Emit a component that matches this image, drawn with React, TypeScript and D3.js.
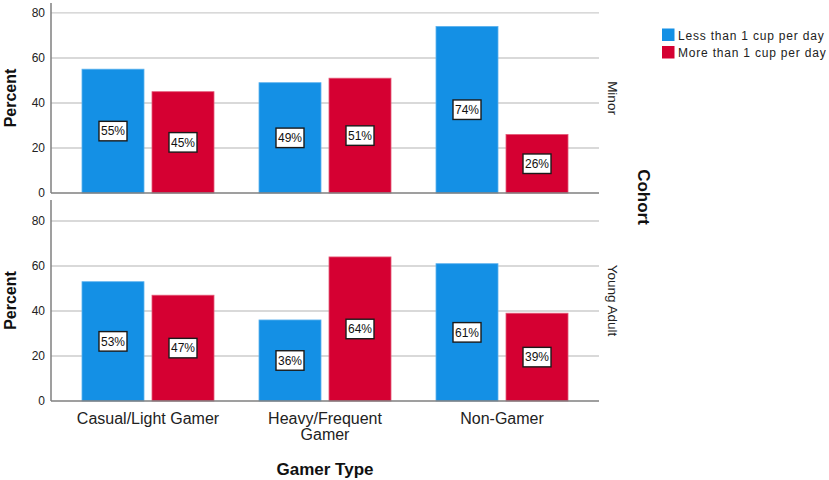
import * as d3 from 'd3'

const categories = ['Casual/Light Gamer', 'Heavy/Frequent Gamer', 'Non-Gamer']
const cohorts = ['Minor', 'Young Adult']
const seriesNames = ['Less than 1 cup per day', 'More than 1 cup per day']
const seriesColors = ['#1490e5', '#d50032']
const seriesEdges = ['#5cb2ee', '#e45a78']

const minorLess = [55, 49, 74]
const minorMore = [45, 51, 26]
const youngLess = [53, 36, 61]
const youngMore = [47, 64, 39]

const yTicks = [0, 20, 40, 60, 80]

const FONT = '"Liberation Sans", Arial, sans-serif'

const width = 829
const height = 480
const plot = { left: 51, right: 599 }

const panels = [
  { cohort: cohorts[0], series: [minorLess, minorMore], top: 3, bottom: 193, max: 84.4 },
  { cohort: cohorts[1], series: [youngLess, youngMore], top: 200, bottom: 401, max: 89.3 },
]

function wrapLabel(label: string) {
  if (label.length <= 18) return [label]
  const i = label.lastIndexOf(' ')
  return [label.slice(0, i), label.slice(i + 1)]
}

export default function App() {
  const x0 = d3
    .scaleBand<string>()
    .domain(categories)
    .range([plot.left, plot.right])
    .paddingInner(0)
    .paddingOuter(0.048)

  const x1 = d3
    .scaleBand<number>()
    .domain([0, 1])
    .range([0, x0.bandwidth()])
    .paddingInner(0.1143)
    .paddingOuter(0.3214)

  return (
    <svg
      width={width}
      height={height}
      viewBox={`0 0 ${width} ${height}`}
      style={{ position: 'absolute', left: 0, top: 0, background: '#fff', fontFamily: FONT }}
    >
      {panels.map(panel => {
        const y = d3.scaleLinear().domain([0, panel.max]).range([panel.bottom, panel.top])
        const mid = (panel.top + panel.bottom) / 2
        return (
          <g key={panel.cohort}>
            {yTicks
              .filter(t => t > 0)
              .map(t => (
                <line
                  key={`g-${t}`}
                  x1={plot.left}
                  x2={plot.right}
                  y1={y(t)}
                  y2={y(t)}
                  stroke="#cdcdcd"
                  strokeWidth={1.4}
                />
              ))}
            {yTicks.map(t => (
              <text
                key={`t-${t}`}
                x={45}
                y={y(t)}
                dy="0.36em"
                textAnchor="end"
                fontSize={12}
                fill="#222"
              >
                {t}
              </text>
            ))}

            {categories.map((cat, ci) =>
              panel.series.map((vals, si) => {
                const v = vals[ci]
                const bx = (x0(cat) ?? 0) + (x1(si) ?? 0)
                const bw = x1.bandwidth()
                const cx = bx + bw / 2
                const cy = y(v / 2)
                const label = `${v}%`
                const boxW = 28
                const boxH = 19.5
                return (
                  <g key={`${cat}-${si}`}>
                    <rect
                      x={bx}
                      y={y(v)}
                      width={bw}
                      height={y(0) - y(v)}
                      fill={seriesColors[si]}
                      stroke={seriesEdges[si]}
                      strokeWidth={0.8}
                    />
                    <rect
                      x={cx - boxW / 2}
                      y={cy - boxH / 2}
                      width={boxW}
                      height={boxH}
                      fill="#fff"
                      stroke="#1a1a1a"
                      strokeWidth={1.4}
                    />
                    <text
                      x={cx}
                      y={cy}
                      dy="0.36em"
                      textAnchor="middle"
                      fontSize={12}
                      fill="#111"
                    >
                      {label}
                    </text>
                  </g>
                )
              })
            )}

            <line
              x1={plot.left}
              x2={plot.left}
              y1={panel.top}
              y2={panel.bottom}
              stroke="#7f7f7f"
              strokeWidth={1.5}
            />
            <line
              x1={plot.left}
              x2={plot.right}
              y1={y(0)}
              y2={y(0)}
              stroke="#7f7f7f"
              strokeWidth={1.5}
            />

            <text
              transform={`translate(16,${mid}) rotate(-90)`}
              textAnchor="middle"
              fontSize={16}
              fontWeight="bold"
              fill="#111"
            >
              Percent
            </text>

            <text
              transform={`translate(612,${mid}) rotate(90)`}
              textAnchor="middle"
              dominantBaseline="central"
              fontSize={13.5}
              fill="#222"
            >
              {panel.cohort}
            </text>
          </g>
        )
      })}

      {categories.map(cat => {
        const cx = (x0(cat) ?? 0) + x0.bandwidth() / 2
        return (
          <text key={cat} x={cx} y={424} textAnchor="middle" fontSize={16} fill="#222">
            {wrapLabel(cat).map((line, i) => (
              <tspan key={line} x={cx} dy={i === 0 ? 0 : 16}>
                {line}
              </tspan>
            ))}
          </text>
        )
      })}

      <text
        x={(plot.left + plot.right) / 2}
        y={475}
        textAnchor="middle"
        fontSize={17}
        fontWeight="bold"
        fill="#111"
      >
        Gamer Type
      </text>

      <text
        transform="translate(643,197) rotate(90)"
        textAnchor="middle"
        dominantBaseline="central"
        fontSize={17}
        fontWeight="bold"
        fill="#111"
      >
        Cohort
      </text>

      {seriesNames.map((name, i) => (
        <g key={name} transform={`translate(662,${28.5 + i * 17.5})`}>
          <rect width={12.5} height={12.5} fill={seriesColors[i]} />
          <text x={16} y={11} fontSize={12} letterSpacing={0.8} fill="#222">
            {name}
          </text>
        </g>
      ))}
    </svg>
  )
}
